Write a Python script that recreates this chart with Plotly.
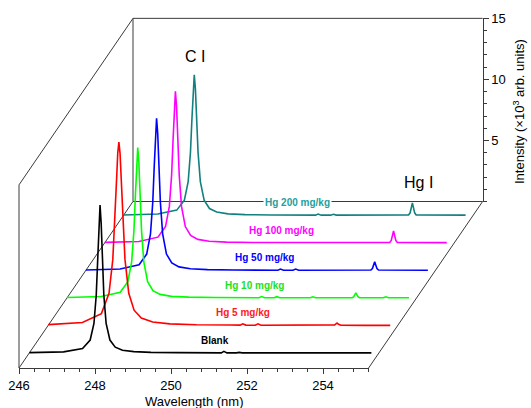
import plotly.graph_objects as go

# ---------------- data ----------------
WAVELENGTH = [246.00, 246.90, 247.40, 247.60, 247.70, 247.76, 247.80, 247.83, 247.86, 247.89,
              247.92, 247.96, 248.02, 248.12, 248.26, 248.45, 248.75, 249.20, 249.90, 250.80,
              251.05, 251.12, 251.20, 251.45, 251.52, 251.60, 252.40, 252.47, 252.54, 253.50,
              253.54, 253.57, 253.60, 253.63, 253.66, 253.70, 254.32, 254.39, 254.46, 255.00]

SERIES_NAMES = ["Blank", "Hg 5 mg/kg", "Hg 10 mg/kg", "Hg 50 mg/kg", "Hg 100 mg/kg", "Hg 200 mg/kg"]

blank = [0.02, 0.08, 0.36, 1.05, 2.42, 4.72, 7.74, 10.6, 12.1, 10.6,
         7.74, 4.72, 2.42, 1.05, 0.47, 0.22, 0.10, 0.04, 0.02, 0.01,
         0.0, 0.12, 0.0, 0.0, 0.04, 0.0, 0.0, 0.03, 0.0, 0.0,
         0.0, 0.01, 0.02, 0.01, 0.0, 0.0, 0.0, 0.0, 0.0, 0.0]
hg5 = [0.06, 0.23, 0.96, 2.63, 5.4, 8.85, 12.0, 14.1, 15.0, 14.1,
       12.0, 8.85, 5.4, 2.63, 1.24, 0.60, 0.27, 0.12, 0.05, 0.03,
       0.02, 0.13, 0.02, 0.01, 0.12, 0.01, 0.01, 0.03, 0.01, 0.01,
       0.04, 0.11, 0.19, 0.11, 0.04, 0.01, 0.0, 0.02, 0.0, 0.0]
hg10 = [0.03, 0.11, 0.45, 1.32, 2.95, 5.5, 8.51, 11.07, 12.3, 11.07,
        8.51, 5.5, 2.95, 1.32, 0.59, 0.28, 0.12, 0.055, 0.023, 0.012,
        0.01, 0.10, 0.01, 0.01, 0.09, 0.01, 0.01, 0.08, 0.01, 0.01,
        0.08, 0.24, 0.41, 0.24, 0.08, 0.01, 0.01, 0.08, 0.01, 0.01]
hg50 = [0.03, 0.11, 0.46, 1.33, 2.99, 5.57, 8.62, 11.2, 12.45, 11.2,
        8.62, 5.57, 2.99, 1.33, 0.60, 0.28, 0.13, 0.056, 0.024, 0.012,
        0.01, 0.10, 0.01, 0.01, 0.10, 0.01, 0.01, 0.04, 0.01, 0.02,
        0.14, 0.42, 0.71, 0.42, 0.14, 0.02, 0.01, 0.03, 0.01, 0.01]
hg100 = [0.03, 0.11, 0.46, 1.33, 2.98, 5.55, 8.58, 11.16, 12.4, 11.16,
         8.58, 5.55, 2.98, 1.33, 0.60, 0.28, 0.125, 0.056, 0.024, 0.012,
         0.01, 0.06, 0.01, 0.01, 0.06, 0.01, 0.01, 0.05, 0.01, 0.02,
         0.19, 0.58, 0.96, 0.58, 0.19, 0.02, 0.01, 0.03, 0.01, 0.01]
hg200 = [0.027, 0.10, 0.42, 1.23, 2.76, 5.15, 7.96, 10.35, 11.5, 10.35,
         7.96, 5.15, 2.76, 1.23, 0.55, 0.26, 0.116, 0.052, 0.022, 0.011,
         0.01, 0.10, 0.01, 0.01, 0.08, 0.01, 0.01, 0.03, 0.01, 0.02,
         0.20, 0.60, 1.00, 0.60, 0.20, 0.02, 0.01, 0.02, 0.01, 0.01]
SERIES_VALUES = [blank, hg5, hg10, hg50, hg100, hg200]

X_TICKS = [246, 248, 250, 252, 254]
Z_TICKS = [5, 10, 15]

# ---------------- layout / style ----------------
PAGE_OFFSET = 0                  # body margin removed below, figure sits at the page origin
W, H = 531, 408
X0_PX, Y0_PX = 19 - PAGE_OFFSET, 368 - PAGE_OFFSET   # front floor origin (246 nm, 0)
PX_PER_NM, PX_PER_UNIT = 38.0, 12.21
DEPTH_DX_PX, DEPTH_DY_PX = 114.0, 166.5
WL_MIN, WL_MAX = 246.0, 255.2
Z_MAX = 15.0

DXN = DEPTH_DX_PX / PX_PER_NM
DYU = DEPTH_DY_PX / PX_PER_UNIT

COLORS = ["#000000", "#ff0000", "#00ff00", "#0000ff", "#ff00ff", "#138080"]
LABEL_COLORS = ["#000000", "#ff1a1a", "#22e022", "#0000ff", "#ff00ff", "#22a0a0"]
LABEL_WL = [250.89, 251.12, 250.93, 250.71, 250.64, 250.58]
LABEL_LIFT = 1.02
FONT = "Arial, Liberation Sans, sans-serif"
FRAME = "#3a3a3a"


def depth(k):
    return (k + 0.55) / 6.05


def proj(wl, z, t):
    return wl + t * DXN, z + t * DYU


def paper(px, py):
    return (px - PAGE_OFFSET) / W, 1 - (py - PAGE_OFFSET) / H


fig = go.Figure()

# spectra: back first so that front spectra are drawn on top
for k in reversed(range(len(SERIES_NAMES))):
    t = depth(k)
    xs = [proj(w, v, t)[0] for w, v in zip(WAVELENGTH, SERIES_VALUES[k])]
    ys = [proj(w, v, t)[1] for w, v in zip(WAVELENGTH, SERIES_VALUES[k])]
    fig.add_trace(go.Scatter(x=xs, y=ys, mode="lines", name=SERIES_NAMES[k],
                             line=dict(color=COLORS[k], width=1.6),
                             showlegend=False, hoverinfo="skip", xaxis="x", yaxis="y"))

# invisible trace so that the visible axis pair is created
fig.add_trace(go.Scatter(x=[WL_MIN], y=[0], xaxis="x2", yaxis="y2", mode="markers",
                         marker=dict(opacity=0), showlegend=False, hoverinfo="skip"))


def seg(p, q):
    (x1, y1), (x2, y2) = p, q
    return dict(type="line", xref="x", yref="y", x0=x1, y0=y1, x1=x2, y1=y2,
                line=dict(color=FRAME, width=1), layer="below")


shapes = [
    seg(proj(WL_MIN, 0, 0), proj(WL_MIN, Z_MAX, 0)),
    seg(proj(WL_MIN, Z_MAX, 0), proj(WL_MIN, Z_MAX, 1)),
    seg(proj(WL_MIN, 0, 1), proj(WL_MIN, Z_MAX, 1)),
    seg(proj(WL_MIN, 0, 0), proj(WL_MIN, 0, 1)),
    seg(proj(WL_MIN, Z_MAX, 1), proj(WL_MAX, Z_MAX, 1)),
    seg(proj(WL_MIN, 0, 1), proj(WL_MAX, 0, 1)),
    seg(proj(WL_MAX, 0, 0), proj(WL_MAX, 0, 1)),
]

annotations = []
for k, name in enumerate(SERIES_NAMES):
    t = depth(k)
    ax, ay = proj(LABEL_WL[k], LABEL_LIFT, t)
    ann = dict(x=ax, y=ay, xref="x", yref="y", text="<b>%s</b>" % name,
               xanchor="center", yanchor="middle",
               showarrow=False, font=dict(family=FONT, size=10, color=LABEL_COLORS[k]),
               borderpad=1)
    if k == len(SERIES_NAMES) - 1:
        ann["bgcolor"] = "white"
    annotations.append(ann)


def text_at(px, py, text, size, angle=0):
    x, y = paper(px, py)
    return dict(x=x, y=y, xref="paper", yref="paper", text=text, showarrow=False,
                xanchor="center", yanchor="middle",
                textangle=angle, font=dict(family=FONT, size=size, color="black"))


annotations += [
    text_at(195, 57, "C I", 16),
    text_at(418, 183, "Hg I", 16),
    text_at(194, 401, "Wavelength (nm)", 13),
    text_at(519, 112, "Intensity (\u00d710<sup>3</sup> arb. units)", 13, -90),
]

x_lo = WL_MIN - X0_PX / PX_PER_NM
x_hi = WL_MIN + (W - X0_PX) / PX_PER_NM
y_lo = -(H - Y0_PX) / PX_PER_UNIT
y_hi = Y0_PX / PX_PER_UNIT

back_floor_px = Y0_PX - DEPTH_DY_PX
fig.update_layout(
    template="none",
    width=W, height=H,
    margin=dict(l=0, r=0, t=0, b=0, pad=0, autoexpand=False),
    paper_bgcolor="white", plot_bgcolor="rgba(0,0,0,0)",
    showlegend=False,
    xaxis=dict(domain=[0, 1], range=[x_lo, x_hi], visible=False, fixedrange=True,
               automargin=False),
    yaxis=dict(domain=[0, 1], range=[y_lo, y_hi], visible=False, fixedrange=True,
               automargin=False),
    xaxis2=dict(domain=[X0_PX / W, (X0_PX + (WL_MAX - WL_MIN) * PX_PER_NM) / W],
                range=[WL_MIN, WL_MAX], anchor="free", position=(H - Y0_PX) / H,
                automargin=False,
                showline=True, linecolor=FRAME, linewidth=1, showgrid=False, zeroline=False,
                tickmode="array", tickvals=X_TICKS, ticks="outside", ticklen=5, tickwidth=1,
                tickcolor=FRAME, tickfont=dict(family=FONT, size=13, color="black"),
                minor=dict(dtick=0.4, tick0=WL_MIN, ticks="outside", ticklen=3,
                           tickcolor=FRAME, showgrid=False),
                fixedrange=True),
    yaxis2=dict(domain=[(H - back_floor_px) / H, (H - back_floor_px + Z_MAX * PX_PER_UNIT) / H],
                range=[0, Z_MAX], anchor="free",
                position=(X0_PX + (WL_MAX - WL_MIN) * PX_PER_NM + DEPTH_DX_PX) / W,
                automargin=False,
                side="right", showline=True, linecolor=FRAME, linewidth=1, showgrid=False,
                zeroline=False, tickmode="array", tickvals=Z_TICKS, ticks="outside",
                ticklen=5, tickwidth=1, tickcolor=FRAME,
                tickfont=dict(family=FONT, size=13, color="black"),
                minor=dict(dtick=1, tick0=0, ticks="outside", ticklen=3, tickcolor=FRAME,
                           showgrid=False),
                fixedrange=True),
    shapes=shapes,
    annotations=annotations,
)

fig.write_html("out.html",
               config={"displayModeBar": False},
               post_script="document.body.style.margin='0';document.body.style.overflow='hidden';")
